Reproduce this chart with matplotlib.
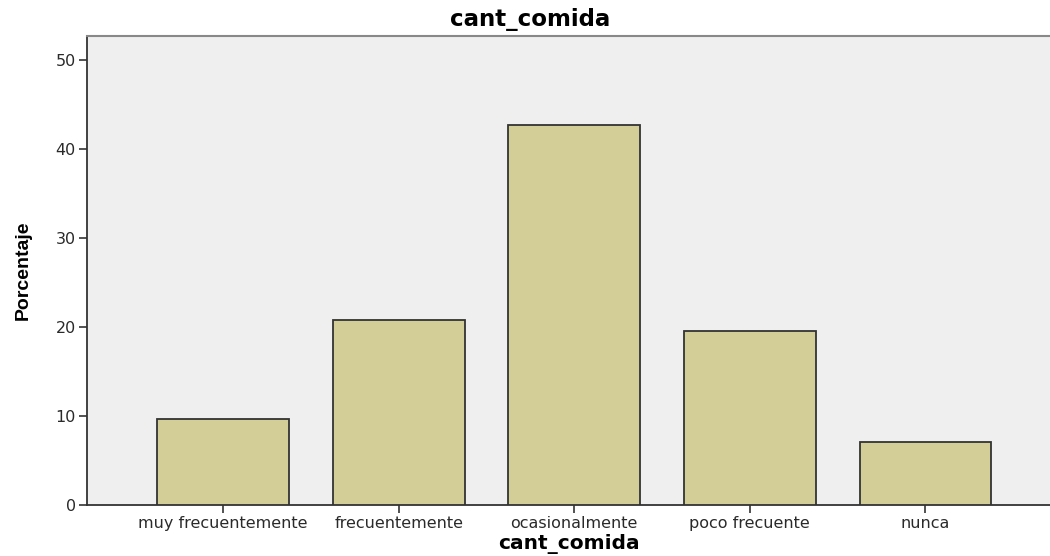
import matplotlib
matplotlib.use("Agg")
import matplotlib.pyplot as plt

# datos
categorias = ["muy frecuentemente", "frecuentemente", "ocasionalmente", "poco frecuente", "nunca"]
porcentajes = [9.7, 20.8, 42.7, 19.6, 7.1]
ticks_y = [0, 10, 20, 30, 40, 50]

plt.rcParams['font.family'] = ['DejaVu Sans']

fig = plt.figure(figsize=(10.5, 5.56), dpi=100)
ax = fig.add_axes([0.0829, 0.0917, 0.9171, 0.8436])
ax.set_facecolor("#efefef")

x = list(range(len(categorias)))
ax.bar(x, porcentajes, width=0.75, color="#d3ce98", edgecolor="#333333", linewidth=1.3, zorder=3)

ax.set_xlim(-0.775, 4.71)
ax.set_ylim(0, 52.7)
ax.set_xticks(x)
ax.set_xticklabels(categorias, fontsize=11.5, color="#2a2a2a")
ax.set_yticks(ticks_y)
ax.set_yticklabels([str(t) for t in ticks_y], fontsize=11.5, color="#2a2a2a")
ax.tick_params(axis='both', direction='out', length=6, width=1.2, color="#333333", pad=2)

for s in ['left', 'bottom']:
    ax.spines[s].set_color("#333333")
    ax.spines[s].set_linewidth(1.3)
ax.spines['top'].set_color("#888888")
ax.spines['top'].set_linewidth(1.5)
ax.spines['right'].set_visible(False)

# el título está centrado en la figura, no en el eje
ax.set_title("cant_comida", fontsize=16.5, fontweight='bold', pad=7, x=0.46)
ax.set_xlabel("cant_comida", fontsize=14.5, fontweight='bold', labelpad=2)
ax.set_ylabel("Porcentaje", fontsize=14, fontweight='bold', labelpad=17,
              family=['Liberation Sans Narrow', 'Liberation Sans', 'DejaVu Sans'])

fig.savefig("out.png", dpi=100)
